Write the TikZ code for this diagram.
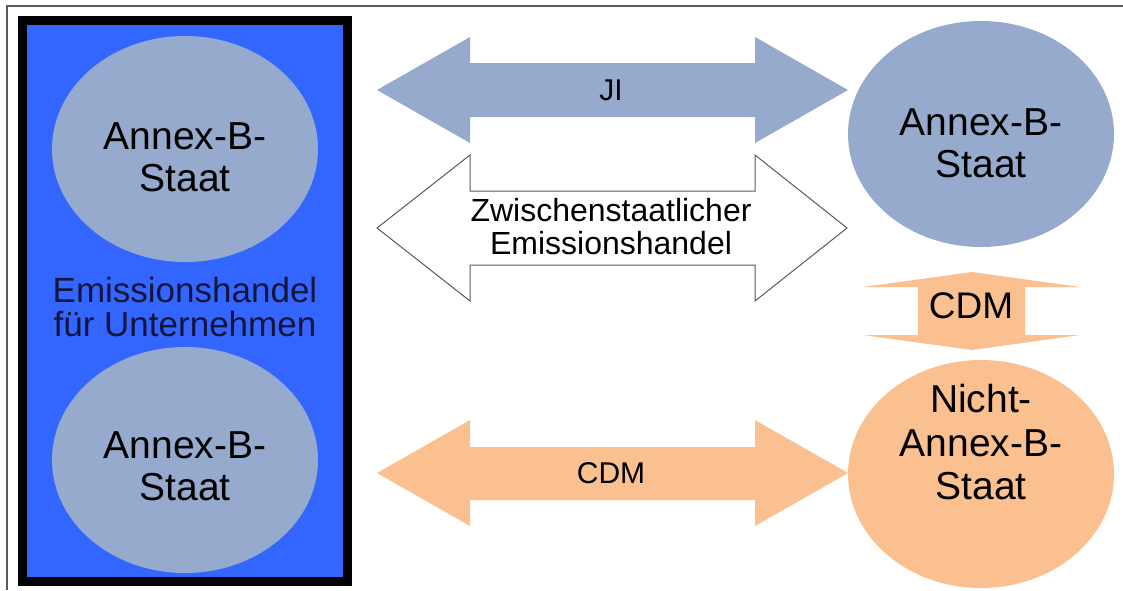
\documentclass[tikz,border=0pt]{standalone}
\usepackage{fontspec}
\setmainfont{Liberation Sans}
\usetikzlibrary{shapes.geometric,positioning}
\definecolor{unternehmen}{HTML}{3366FF}
\definecolor{annexb}{HTML}{95AACD}
\definecolor{nichtannex}{HTML}{FAC090}
\definecolor{rahmen}{HTML}{5A5A5A}
\definecolor{schrift}{HTML}{14143C}

\tikzset{
  staat/.style={ellipse,minimum width=266pt,minimum height=226pt,inner sep=0pt},
  staattext/.style={align=center,inner sep=0pt,font=\fontsize{39}{42}\selectfont},
  pfeiltext/.style={align=center,inner sep=0pt,font=\fontsize{30}{33}\selectfont}
}

\begin{document}
\begin{tikzpicture}[x=1pt,y=-1pt]
  \useasboundingbox (0,0) rectangle (1123,590);
  % outer frame, right and bottom edges run off the page
  \draw[rahmen,line width=2.5pt] (7,590) -- (7,6) -- (1123,6);

  % company trading box
  \draw[fill=unternehmen,line width=9pt] (22.5,20.5) rectangle (347.5,581.5);
  \node[staat,fill=annexb] (links1) at (185,149) {};
  \node[staattext] (links1txt) at ([yshift=-8pt]links1.center) {Annex-B-\\Staat};
  \node[staat,fill=annexb] (links2) at (185,460) {};
  \node[staattext] (links2txt) at ([yshift=-6pt]links2.center) {Annex-B-\\Staat};
  \node[align=center,inner sep=0pt,text=schrift,font=\fontsize{35}{34}\selectfont]
    (firmen) at (185,307) {Emissionshandel\\für Unternehmen};

  % partner states
  \node[staat,fill=annexb] (rechts1) at (981,134) {};
  \node[staattext] (rechts1txt) at ([yshift=-9.5pt]rechts1.center) {Annex-B-\\Staat};
  \node[staat,fill=nichtannex,minimum height=228pt] (rechts2) at (981,474) {};
  \node[staattext,font=\fontsize{39}{43.5}\selectfont] (rechts2txt)
    at ([yshift=31.5pt]rechts2.center) {Nicht-\\Annex-B-\\Staat};

  % JI
  \fill[annexb] (377,90) -- (470,37) -- (470,63) -- (755,63) -- (755,37) -- (848,90)
    -- (755,143) -- (755,117) -- (470,117) -- (470,143) -- cycle;
  \node[pfeiltext] (ji) at (611,90) {JI};

  % intergovernmental trading
  \draw[rahmen,line width=1pt,fill=white] (377,228) -- (470,155) -- (470,191) -- (755,191)
    -- (755,155) -- (847,228) -- (755,301) -- (755,265) -- (470,265) -- (470,301) -- cycle;
  \node[pfeiltext,font=\fontsize{32}{33}\selectfont] (zwischen) at (611,227)
    {Zwischenstaatlicher\\Emissionshandel};

  % CDM, horizontal
  \fill[nichtannex] (377,473) -- (470,420) -- (470,447) -- (755,447) -- (755,420) -- (848,473)
    -- (755,526) -- (755,500) -- (470,500) -- (470,526) -- cycle;
  \node[pfeiltext] (cdm) at (611,473) {CDM};

  % CDM, vertical
  \fill[nichtannex] (972,272) -- (1080,287) -- (1025,287) -- (1025,335) -- (1080,335)
    -- (972,350) -- (863,335) -- (918,335) -- (918,287) -- (863,287) -- cycle;
  \node[pfeiltext,font=\fontsize{37}{40}\selectfont] (cdmv) at (971,306) {CDM};
\end{tikzpicture}
\end{document}
